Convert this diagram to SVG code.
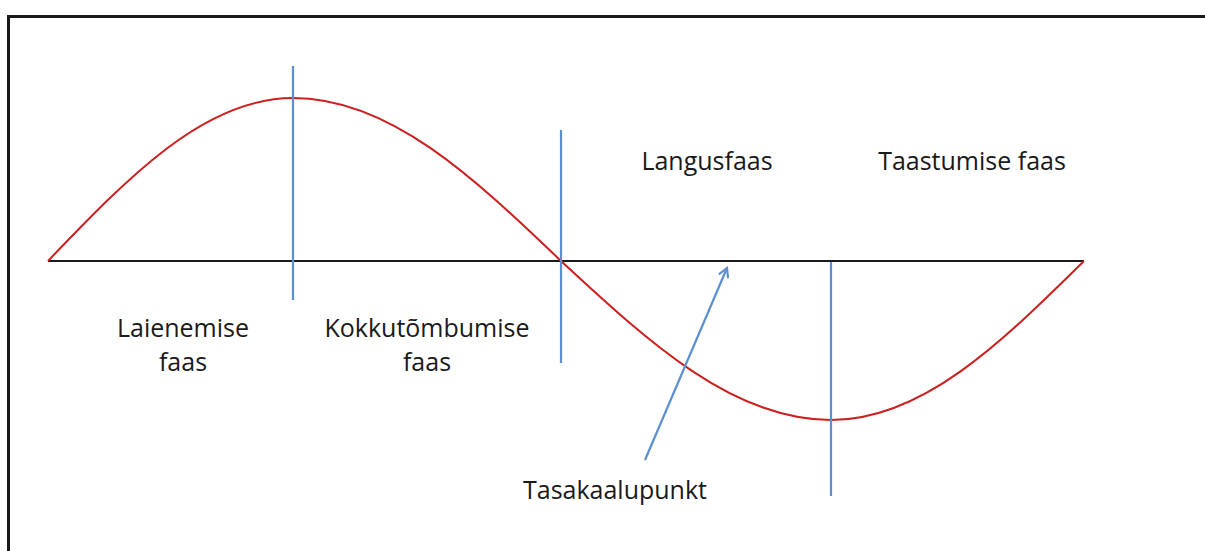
<svg xmlns="http://www.w3.org/2000/svg" width="1205" height="551" viewBox="0 0 1205 551">
<defs>
<style>
.lbl{font-family:"Open Sans","Liberation Sans",sans-serif;font-size:25px;fill:#1a1a1a;text-anchor:middle}
.blue{stroke:#5b8fd0;stroke-width:2.2;fill:none}
</style>
<marker id="ah" viewBox="0 0 12 12" refX="10" refY="6" markerWidth="12" markerHeight="12" markerUnits="userSpaceOnUse" orient="auto">
<polyline points="1,1 10,6 1,11" fill="none" stroke="#5b8fd0" stroke-width="2.2"/>
</marker>
</defs>
<rect x="0" y="0" width="1205" height="551" fill="#fff"/>
<path d="M8.5,563 V16.5 H1220" fill="none" stroke="#1a1a1a" stroke-width="3"/>
<g id="axis"><line x1="48" y1="261" x2="1084" y2="261" stroke="#1a1a1a" stroke-width="2"/></g>
<g id="curve"><path d="M48,261 C127.9,177.5 204.3,98 293,98 C390,98 473.6,177.5 561,261 C649,342.5 733.3,420 831,420 C922.6,420 1001.5,342.5 1084,261" fill="none" stroke="#cc1f1f" stroke-width="2"/></g>
<g id="dividers">
<line class="blue" x1="293" y1="66" x2="293" y2="300"/>
<line class="blue" x1="561" y1="130" x2="561" y2="363"/>
<line class="blue" x1="831" y1="262" x2="831" y2="496"/>
</g>
<g id="connectors"><line x1="645" y1="460" x2="727" y2="268" stroke="#5b8fd0" stroke-width="2.2" marker-end="url(#ah)"/></g>
<g id="labels">
<text class="lbl" x="707" y="170">Langusfaas</text>
<text class="lbl" x="972" y="170">Taastumise faas</text>
<text class="lbl" x="183" y="337">Laienemise</text>
<text class="lbl" x="183" y="371">faas</text>
<text class="lbl" x="427" y="337">Kokkutõmbumise</text>
<text class="lbl" x="427" y="371">faas</text>
<text class="lbl" x="615" y="499">Tasakaalupunkt</text>
</g>
</svg>
